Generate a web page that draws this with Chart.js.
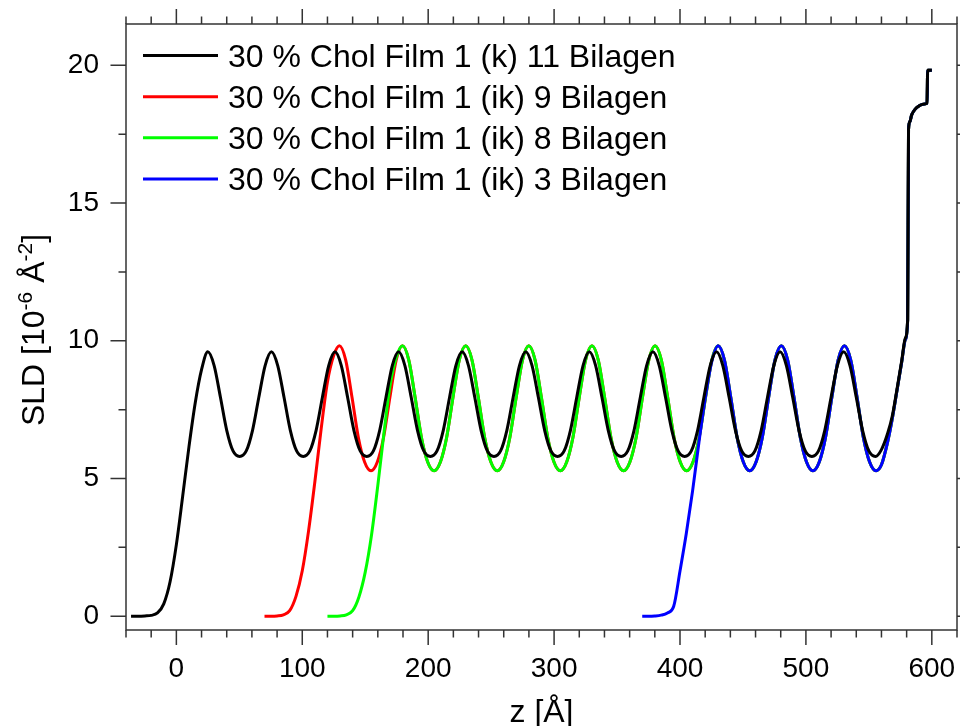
<!DOCTYPE html>
<html>
<head>
<meta charset="utf-8">
<title>SLD Profile</title>
<script src="https://cdn.jsdelivr.net/npm/chart.js@4.4.1/dist/chart.umd.min.js"></script>
<style>
  html, body { margin: 0; padding: 0; background: #fff; }
</style>
</head>
<body>
<canvas id="sldChart" width="960" height="726"></canvas>
<script>
(function () {

    // 30 % Chol Film 1 (k) 11 Bilagen
    const zK = [
        -36, -30, -25, -20, -15, -10, -5, 0, 5, 10, 15, 20, 25,
        30, 35, 40, 45, 50.25, 55.5, 60.5, 65.5, 70.5, 75.5,
        80.5, 85.5, 90.5, 95.5, 100.75, 106, 111, 116, 121, 126,
        131, 136, 141, 146, 151.25, 156.5, 161.5, 166.5, 171.5, 176.5,
        181.5, 186.5, 191.5, 196.5, 201.75, 207, 212, 217, 222, 227,
        232, 237, 242, 247, 252.25, 257.5, 262.5, 267.5, 272.5, 277.5,
        282.5, 287.5, 292.5, 297.5, 302.75, 308, 313, 318, 323, 328,
        333, 338, 343, 348, 353.25, 358.5, 363.5, 368.5, 373.5, 378.5,
        383.5, 388.5, 393.5, 398.5, 403.75, 409, 414, 419, 424, 429,
        434, 439, 444, 449, 454.25, 459.5, 464.5, 469.5, 474.5, 479.5,
        484.5, 489.5, 494.5, 499.5, 504.75, 510, 515, 520, 525, 530,
        535, 540, 545, 550, 555.25, 560, 565, 568.5, 572, 576, 579, 580.8,
        581.5, 582.5, 584, 587, 590, 593, 596.2, 596.7, 600
    ];
    const sldK = [
        0, 0, 0.01, 0.03, 0.12, 0.45, 1.25, 2.6, 4.35, 6.15, 7.75, 8.95, 9.6,
        9.1, 7.95, 6.75, 6.0, 5.8, 6.0, 6.75, 7.95, 9.1, 9.6,
        9.1, 7.95, 6.75, 6.0, 5.8, 6.0, 6.75, 7.95, 9.1, 9.6,
        9.1, 7.95, 6.75, 6.0, 5.8, 6.0, 6.75, 7.95, 9.1, 9.6,
        9.1, 7.95, 6.75, 6.0, 5.8, 6.0, 6.75, 7.95, 9.1, 9.6,
        9.1, 7.95, 6.75, 6.0, 5.8, 6.0, 6.75, 7.95, 9.1, 9.6,
        9.1, 7.95, 6.75, 6.0, 5.8, 6.0, 6.75, 7.95, 9.1, 9.6,
        9.1, 7.95, 6.75, 6.0, 5.8, 6.0, 6.75, 7.95, 9.1, 9.6,
        9.1, 7.95, 6.75, 6.0, 5.8, 6.0, 6.75, 7.95, 9.1, 9.6,
        9.1, 7.95, 6.75, 6.0, 5.8, 6.0, 6.75, 7.95, 9.1, 9.6,
        9.1, 7.95, 6.75, 6.0, 5.8, 6.0, 6.75, 7.95, 9.1, 9.6,
        9.1, 7.95, 6.75, 6.0, 5.8, 6.05, 6.65, 7.25, 8.15, 9.25, 10.1, 10.76,
        17.67, 17.95, 18.2, 18.42, 18.53, 18.59, 18.62, 19.82, 19.82
    ];

    // 30 % Chol Film 1 (ik) 9 Bilagen
    const zR = [
        70, 75, 80, 85, 90, 95, 100, 105, 110, 115, 120, 125, 129.5,
        134.5, 139.5, 144.5, 149.5, 154.6, 159.6, 164.6, 169.6, 174.6, 179.6,
        184.6, 189.6, 194.6, 199.6, 204.7, 209.7, 214.7, 219.7, 224.7, 229.8,
        234.8, 239.8, 244.8, 249.8, 254.9, 259.9, 264.9, 269.9, 274.9, 279.9,
        284.9, 289.9, 294.9, 299.9, 305, 310, 315, 320, 325, 330.1,
        335.1, 340.1, 345.1, 350.1, 355.2, 360.2, 365.2, 370.2, 375.2, 380.2,
        385.2, 390.2, 395.2, 400.2, 405.3, 410.3, 415.3, 420.3, 425.3, 430.3,
        435.3, 440.3, 445.3, 450.3, 455.4, 460.4, 465.4, 470.4, 475.4, 480.5,
        485.5, 490.5, 495.5, 500.5, 505.6, 510.6, 515.6, 520.6, 525.6, 530.6,
        535.6, 540.6, 545.6, 550.6, 555.7, 560, 565, 568.5, 572, 576, 579, 580.8,
        581.5, 582.5, 584, 587, 590, 593, 596.2, 596.7, 600
    ];
    const sldR = [
        0, 0, 0.01, 0.05, 0.2, 0.72, 1.65, 3.1, 4.88, 6.8, 8.5, 9.47, 9.82,
        9.3, 7.95, 6.5, 5.6, 5.28, 5.6, 6.5, 7.95, 9.3, 9.82,
        9.3, 7.95, 6.5, 5.6, 5.28, 5.6, 6.5, 7.95, 9.3, 9.82,
        9.3, 7.95, 6.5, 5.6, 5.28, 5.6, 6.5, 7.95, 9.3, 9.82,
        9.3, 7.95, 6.5, 5.6, 5.28, 5.6, 6.5, 7.95, 9.3, 9.82,
        9.3, 7.95, 6.5, 5.6, 5.28, 5.6, 6.5, 7.95, 9.3, 9.82,
        9.3, 7.95, 6.5, 5.6, 5.28, 5.6, 6.5, 7.95, 9.3, 9.82,
        9.3, 7.95, 6.5, 5.6, 5.28, 5.6, 6.5, 7.95, 9.3, 9.82,
        9.3, 7.95, 6.5, 5.6, 5.28, 5.6, 6.5, 7.95, 9.3, 9.82,
        9.3, 7.95, 6.5, 5.6, 5.28, 5.5, 6.35, 7.15, 8.1, 9.2, 10.05, 10.76,
        17.67, 17.95, 18.2, 18.42, 18.53, 18.59, 18.62, 19.82, 19.82
    ];

    // 30 % Chol Film 1 (ik) 8 Bilagen
    const zG = [
        120, 125, 130, 135, 140, 145, 150, 155, 160, 165, 170, 175, 179.6,
        184.6, 189.6, 194.6, 199.6, 204.7, 209.7, 214.7, 219.7, 224.7, 229.8,
        234.8, 239.8, 244.8, 249.8, 254.9, 259.9, 264.9, 269.9, 274.9, 279.9,
        284.9, 289.9, 294.9, 299.9, 305, 310, 315, 320, 325, 330.1,
        335.1, 340.1, 345.1, 350.1, 355.2, 360.2, 365.2, 370.2, 375.2, 380.2,
        385.2, 390.2, 395.2, 400.2, 405.3, 410.3, 415.3, 420.3, 425.3, 430.3,
        435.3, 440.3, 445.3, 450.3, 455.4, 460.4, 465.4, 470.4, 475.4, 480.5,
        485.5, 490.5, 495.5, 500.5, 505.6, 510.6, 515.6, 520.6, 525.6, 530.6,
        535.6, 540.6, 545.6, 550.6, 555.7, 560, 565, 568.5, 572, 576, 579, 580.8,
        581.5, 582.5, 584, 587, 590, 593, 596.2, 596.7, 600
    ];
    const sldG = [
        0, 0, 0.01, 0.05, 0.2, 0.7, 1.6, 2.95, 4.75, 6.7, 8.45, 9.45, 9.82,
        9.3, 7.95, 6.5, 5.6, 5.28, 5.6, 6.5, 7.95, 9.3, 9.82,
        9.3, 7.95, 6.5, 5.6, 5.28, 5.6, 6.5, 7.95, 9.3, 9.82,
        9.3, 7.95, 6.5, 5.6, 5.28, 5.6, 6.5, 7.95, 9.3, 9.82,
        9.3, 7.95, 6.5, 5.6, 5.28, 5.6, 6.5, 7.95, 9.3, 9.82,
        9.3, 7.95, 6.5, 5.6, 5.28, 5.6, 6.5, 7.95, 9.3, 9.82,
        9.3, 7.95, 6.5, 5.6, 5.28, 5.6, 6.5, 7.95, 9.3, 9.82,
        9.3, 7.95, 6.5, 5.6, 5.28, 5.6, 6.5, 7.95, 9.3, 9.82,
        9.3, 7.95, 6.5, 5.6, 5.28, 5.5, 6.35, 7.15, 8.1, 9.2, 10.05, 10.76,
        17.67, 17.95, 18.2, 18.42, 18.53, 18.59, 18.62, 19.82, 19.82
    ];

    // 30 % Chol Film 1 (ik) 3 Bilagen
    const zB = [
        370, 375, 380, 385, 390, 395, 400, 405, 410, 415, 420, 425, 430.3,
        435.3, 440.3, 445.3, 450.3, 455.4, 460.4, 465.4, 470.4, 475.4, 480.5,
        485.5, 490.5, 495.5, 500.5, 505.6, 510.6, 515.6, 520.6, 525.6, 530.6,
        535.6, 540.6, 545.6, 550.6, 555.7, 560, 565, 568.5, 572, 576, 579, 580.8,
        581.5, 582.5, 584, 587, 590, 593, 596.2, 596.7, 600
    ];
    const sldB = [
        0, 0, 0.01, 0.04, 0.12, 0.36, 1.64, 3.0, 4.55, 6.3, 7.9, 9.2, 9.82,
        9.3, 7.95, 6.5, 5.6, 5.28, 5.6, 6.5, 7.95, 9.3, 9.82,
        9.3, 7.95, 6.5, 5.6, 5.28, 5.6, 6.5, 7.95, 9.3, 9.82,
        9.3, 7.95, 6.5, 5.6, 5.28, 5.5, 6.35, 7.15, 8.1, 9.2, 10.05, 10.76,
        17.67, 17.95, 18.2, 18.42, 18.53, 18.59, 18.62, 19.82, 19.82
    ];

    const seriesNames = [
        '30 % Chol Film 1 (k) 11 Bilagen',
        '30 % Chol Film 1 (ik) 9 Bilagen',
        '30 % Chol Film 1 (ik) 8 Bilagen',
        '30 % Chol Film 1 (ik) 3 Bilagen'
    ];
    const seriesColors = ['#000000', '#ff0000', '#00ff00', '#0000ff'];
    // black on top, then blue, green, red underneath
    const drawOrder = [0, 3, 2, 1];

    const xTickLabels = [0, 100, 200, 300, 400, 500, 600];
    const yTickLabels = [0, 5, 10, 15, 20];
    const xMinorStep = 20;
    const yMinorStep = 2.5;

    const FONT = "'Liberation Sans', Arial, Helvetica, sans-serif";

    const toPoints = (zs, ys) => zs.map((z, i) => ({ x: z, y: ys[i] }));
    const profiles = [[zK, sldK], [zR, sldR], [zG, sldG], [zB, sldB]];

    const datasets = profiles.map((p, i) => ({
        label: seriesNames[i],
        data: toPoints(p[0], p[1]),
        borderColor: seriesColors[i],
        backgroundColor: seriesColors[i],
        borderWidth: 3,
        pointRadius: 0,
        showLine: true,
        fill: false,
        cubicInterpolationMode: 'monotone',
        order: drawOrder[i]
    }));

    // draws a string made of [text, size, rise] pieces, centred on x = 0
    function richText(ctx, parts) {
        let total = 0;
        parts.forEach(p => {
            ctx.font = p[1] + 'px ' + FONT;
            total += ctx.measureText(p[0]).width;
        });
        let x = -total / 2;
        parts.forEach(p => {
            ctx.font = p[1] + 'px ' + FONT;
            ctx.fillText(p[0], x, -p[2]);
            x += ctx.measureText(p[0]).width;
        });
    }

    // the scales must not push the plot area in for their edge labels
    function noEdgePadding(s) {
        s.paddingTop = 0;
        s.paddingBottom = 0;
        s.paddingLeft = 0;
        s.paddingRight = 0;
    }

    // frame, outward ticks on all four sides, axis titles and the legend
    const framePlugin = {
        id: 'frame',
        afterDraw(chart) {
            const { ctx, chartArea: a, scales: { x, y } } = chart;
            ctx.save();
            ctx.strokeStyle = '#333';
            ctx.lineWidth = 1.5;
            ctx.strokeRect(a.left, a.top, a.right - a.left, a.bottom - a.top);

            ctx.beginPath();
            for (let v = x.min; v <= x.max + 1e-6; v += xMinorStep) {
                const px = x.getPixelForValue(v);
                const len = xTickLabels.includes(v) ? 15 : 7.5;
                ctx.moveTo(px, a.bottom); ctx.lineTo(px, a.bottom + len);
                ctx.moveTo(px, a.top); ctx.lineTo(px, a.top - len);
            }
            for (let v = 0; v <= y.max + 1e-6; v += yMinorStep) {
                const py = y.getPixelForValue(v);
                const len = yTickLabels.includes(v) ? 15.5 : 7.5;
                ctx.moveTo(a.left, py); ctx.lineTo(a.left - len, py);
                ctx.moveTo(a.right, py); ctx.lineTo(a.right + len, py);
            }
            ctx.stroke();

            // axis titles
            ctx.fillStyle = '#000';
            ctx.textBaseline = 'alphabetic';
            ctx.textAlign = 'left';
            ctx.save();
            ctx.translate((a.left + a.right) / 2, 721.5);
            richText(ctx, [['z [Å]', 32, 0]]);
            ctx.restore();

            ctx.save();
            ctx.translate(43.5, 330);
            ctx.rotate(-Math.PI / 2);
            richText(ctx, [['SLD [10', 32, 0], ['-6', 21, 12], [' Å', 32, 0], ['-2', 21, 12], [']', 32, 0]]);
            ctx.restore();

            // legend
            const rows = [55.5, 96.7, 137.8, 179];
            ctx.font = '32px ' + FONT;
            ctx.textBaseline = 'middle';
            rows.forEach((ry, i) => {
                ctx.strokeStyle = seriesColors[i];
                ctx.lineWidth = 3;
                ctx.beginPath();
                ctx.moveTo(143, ry);
                ctx.lineTo(218, ry);
                ctx.stroke();
                ctx.fillText(seriesNames[i], 228, ry + 2.5);
            });
            ctx.restore();
        }
    };

    const tickFont = { family: FONT, size: 28 };

    new Chart(document.getElementById('sldChart').getContext('2d'), {
        type: 'scatter',
        data: { datasets: datasets },
        options: {
            responsive: false,
            devicePixelRatio: 1,
            animation: false,
            layout: { padding: { top: 24, right: 3, left: 0, bottom: 0 } },
            plugins: {
                legend: { display: false },
                tooltip: { enabled: false }
            },
            scales: {
                x: {
                    type: 'linear',
                    position: 'bottom',
                    min: -40,
                    max: 620,
                    grid: { display: false, drawTicks: false },
                    border: { display: false },
                    ticks: {
                        font: tickFont,
                        color: '#000',
                        padding: 22,
                        maxRotation: 0,
                        autoSkip: false,
                        callback: v => String(v)
                    },
                    afterBuildTicks: s => { s.ticks = xTickLabels.map(v => ({ value: v })); },
                    afterFit: s => { s.height = 96; noEdgePadding(s); }
                },
                y: {
                    type: 'linear',
                    position: 'left',
                    min: -0.5,
                    max: 21.5,
                    grid: { display: false, drawTicks: false },
                    border: { display: false },
                    ticks: {
                        font: tickFont,
                        color: '#000',
                        padding: 27,
                        autoSkip: false,
                        callback: v => String(v)
                    },
                    afterBuildTicks: s => { s.ticks = yTickLabels.map(v => ({ value: v })); },
                    afterFit: s => { s.width = 126; noEdgePadding(s); }
                }
            }
        },
        plugins: [framePlugin]
    });

})();
</script>
</body>
</html>
